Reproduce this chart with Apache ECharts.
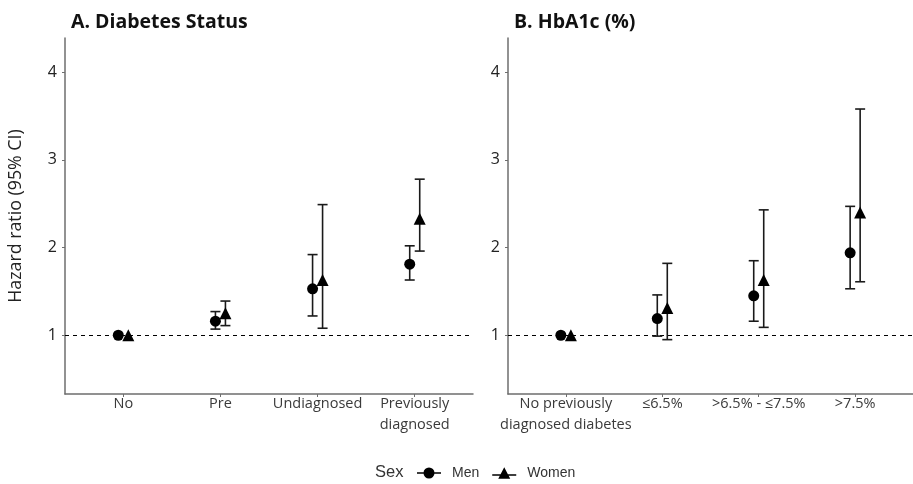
<!DOCTYPE html>
<html>
<head>
<meta charset="utf-8">
<script src="https://cdn.jsdelivr.net/npm/echarts@6/dist/echarts.min.js"></script>
<style>
  html, body { margin: 0; padding: 0; background: #fff; }
  #chart { width: 913px; height: 484px; }
</style>
</head>
<body>
<div id="chart"></div>
<script>
// Hazard ratios (95% CI) of the outcome by diabetes status and HbA1c, split by sex
const catsA = ['No', 'Pre', 'Undiagnosed', 'Previously\ndiagnosed'];
const catsB = ['No previously\ndiagnosed diabetes', '≤6.5%', '>6.5% - ≤7.5%', '>7.5%'];
const yTicks = [1, 2, 3, 4];

// Panel A: diabetes status
const menA      = [1.00, 1.16, 1.53, 1.81];
const menALow   = [null, 1.07, 1.22, 1.63];
const menAHigh  = [null, 1.27, 1.92, 2.02];
const womenA     = [1.00, 1.25, 1.63, 2.33];
const womenALow  = [null, 1.11, 1.08, 1.96];
const womenAHigh = [null, 1.39, 2.49, 2.78];

// Panel B: HbA1c categories
const menB      = [1.00, 1.19, 1.45, 1.94];
const menBLow   = [null, 0.99, 1.16, 1.53];
const menBHigh  = [null, 1.46, 1.85, 2.47];
const womenB     = [1.00, 1.31, 1.63, 2.40];
const womenBLow  = [null, 0.95, 1.09, 1.61];
const womenBHigh = [null, 1.82, 2.43, 3.58];

const FONT = '"Open Sans", sans-serif';
const LEGEND_FONT = '"Liberation Sans", Arial, sans-serif';
const DODGE = 5; // horizontal pixel offset between men and women

function points(vals) {
  return vals.map((v, i) => [i + 1, v]);
}
function bars(lo, hi) {
  return lo.map((l, i) => [i + 1, l, hi[i]]).filter(d => d[1] != null);
}

function errorSeries(grid, lo, hi, shift) {
  return {
    type: 'custom',
    xAxisIndex: grid, yAxisIndex: grid,
    data: bars(lo, hi),
    silent: true,
    z: 2,
    renderItem: function (params, api) {
      const pLo = api.coord([api.value(0), api.value(1)]);
      const pHi = api.coord([api.value(0), api.value(2)]);
      const x = pLo[0] + shift;
      const cap = 5;
      const style = { stroke: '#1a1a1a', lineWidth: 1.6, fill: null };
      return {
        type: 'group',
        children: [
          { type: 'line', shape: { x1: x, y1: pLo[1], x2: x, y2: pHi[1] }, style: style },
          { type: 'line', shape: { x1: x - cap, y1: pHi[1], x2: x + cap, y2: pHi[1] }, style: style },
          { type: 'line', shape: { x1: x - cap, y1: pLo[1], x2: x + cap, y2: pLo[1] }, style: style }
        ]
      };
    }
  };
}

function pointSeries(grid, name, vals, symbol, size, shift, withRef) {
  const s = {
    type: 'scatter',
    name: name,
    xAxisIndex: grid, yAxisIndex: grid,
    data: points(vals),
    symbol: symbol,
    symbolSize: size,
    symbolOffset: [shift, 0],
    itemStyle: { color: '#000', opacity: 1 },
    z: 3
  };
  if (withRef) {
    s.markLine = {
      silent: true,
      symbol: 'none',
      label: { show: false },
      lineStyle: { color: '#000', type: [4, 4], width: 1 },
      data: [{ yAxis: 1 }],
      z: 1
    };
  }
  return s;
}

function xAxis(grid, cats) {
  return {
    type: 'value',
    gridIndex: grid,
    min: 0.4, max: 4.6,
    splitLine: { show: false },
    axisLine: { show: true, lineStyle: { color: '#6e6e6e', width: 1.5 } },
    axisTick: { show: true, customValues: [1, 2, 3, 4], length: 3, lineStyle: { color: '#6e6e6e' } },
    axisLabel: {
      customValues: [1, 2, 3, 4],
      formatter: v => cats[Math.round(v) - 1],
      color: '#3a3a3a', fontFamily: FONT, fontSize: 14.5, lineHeight: 21, margin: -1
    }
  };
}

function yAxis(grid, withName) {
  const a = {
    type: 'value',
    gridIndex: grid,
    min: 0.33, max: 4.39,
    splitLine: { show: false },
    axisLine: { show: true, lineStyle: { color: '#6e6e6e', width: 1.5 } },
    axisTick: { show: true, customValues: yTicks, length: 3, lineStyle: { color: '#6e6e6e' } },
    axisLabel: { customValues: yTicks, color: '#222', fontFamily: FONT, fontSize: 16, margin: 8 }
  };
  if (withName) {
    a.name = 'Hazard ratio (95% CI)';
    a.nameLocation = 'middle';
    a.nameGap = 40;
    a.nameTextStyle = { color: '#222', fontFamily: FONT, fontSize: 17.8 };
  }
  return a;
}

// Legend keys: a short horizontal line through the point shape
const circleKey = 'path://M0,5.1 H24 V6.4 H0 Z M6.5,5.75 A5.5,5.5 0 1 1 17.5,5.75 A5.5,5.5 0 1 1 6.5,5.75 Z';
const triangleKey = 'path://M0,7.1 H24 V8.4 H0 Z M12,0 L18,11.5 L6,11.5 Z';

const chart = echarts.init(document.getElementById('chart'), null, { renderer: 'canvas' });
chart.setOption({
  animation: false,
  backgroundColor: '#fff',
  title: [
    { text: 'A. Diabetes Status', left: 66, top: 7,
      textStyle: { fontFamily: FONT, fontWeight: 'bold', fontSize: 19.5, color: '#111' } },
    { text: 'B. HbA1c (%)', left: 509, top: 7,
      textStyle: { fontFamily: FONT, fontWeight: 'bold', fontSize: 19.5, color: '#111' } }
  ],
  grid: [
    { left: 65, top: 38, width: 408, height: 356 },
    { left: 508, top: 38, width: 405, height: 356 }
  ],
  xAxis: [xAxis(0, catsA), xAxis(1, catsB)],
  yAxis: [yAxis(0, true), yAxis(1, false)],
  legend: {
    left: 417, top: 466, padding: 0,
    itemWidth: 24, itemHeight: 12, itemGap: 13,
    selectedMode: false,
    textStyle: { fontFamily: LEGEND_FONT, fontSize: 14, color: '#333', padding: [0, 0, 0, 6] },
    data: [
      { name: 'Men', icon: circleKey },
      { name: 'Women', icon: triangleKey }
    ]
  },
  graphic: [
    { type: 'text', left: 375, top: 464,
      style: { text: 'Sex', fontFamily: LEGEND_FONT, fontSize: 16.5, fill: '#333' } }
  ],
  series: [
    errorSeries(0, menALow, menAHigh, -DODGE),
    errorSeries(0, womenALow, womenAHigh, DODGE),
    pointSeries(0, 'Men', menA, 'circle', 11, -DODGE, true),
    pointSeries(0, 'Women', womenA, 'triangle', 12, DODGE, false),
    errorSeries(1, menBLow, menBHigh, -DODGE),
    errorSeries(1, womenBLow, womenBHigh, DODGE),
    pointSeries(1, 'Men', menB, 'circle', 11, -DODGE, true),
    pointSeries(1, 'Women', womenB, 'triangle', 12, DODGE, false)
  ]
});
</script>
</body>
</html>
